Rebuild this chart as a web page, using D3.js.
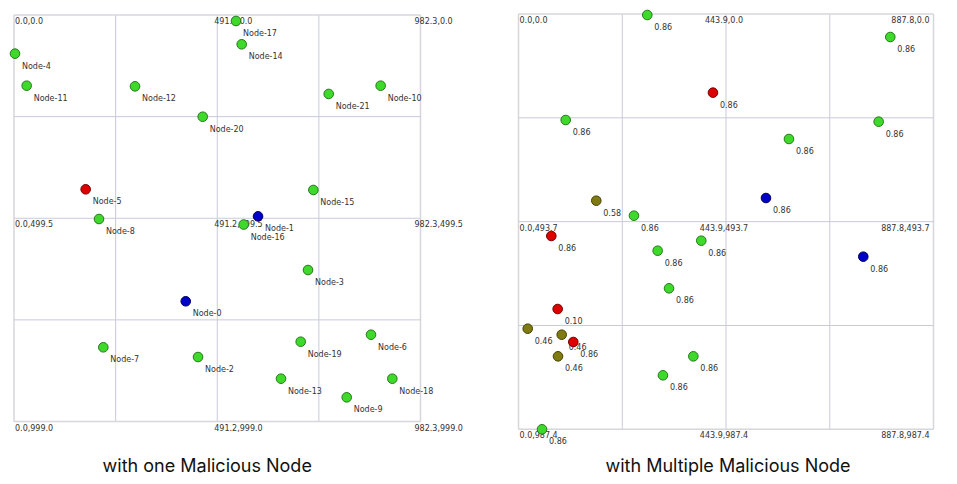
<!DOCTYPE html>
<html><head><meta charset="utf-8">
<script src="https://cdn.jsdelivr.net/npm/d3@7"></script>
<style>
html,body{margin:0;padding:0;background:#fff;}
svg{display:block;}
</style></head>
<body>
<svg id="chart" width="957" height="484"></svg>
<script>
// ---------- DATA ----------
// Panel 1: one malicious node
const leftNames = ["Node-4","Node-11","Node-12","Node-20","Node-5","Node-8","Node-17","Node-14","Node-21","Node-10","Node-15","Node-16","Node-1","Node-0","Node-7","Node-2","Node-3","Node-19","Node-6","Node-13","Node-18","Node-9"];
const leftX = [2.4,30.6,292.4,456,173.2,205.4,536.5,550.2,760.5,886,723.4,555,589.7,415,215.8,444.7,710.5,692.8,862.7,645.2,914.2,804];
const leftY = [95,173.7,175.3,250,428.4,501.4,14.7,72,194,173.7,430,515,494.8,703.6,816.7,840.5,626.7,802.9,785.7,893.8,893.8,939.6];
const leftType = ["normal","normal","normal","normal","malicious","normal","normal","normal","normal","normal","normal","normal","source","source","normal","normal","normal","normal","normal","normal","normal","normal"];
const leftXDomain = [0, 982.3];
const leftYDomain = [0, 999.0];
const leftXLabels = ["0.0","491.2","982.3"];
const leftYLabels = ["0.0","499.5","999.0"];

// Panel 2: multiple malicious nodes (trust values)
const rightX = [275.5,795.3,416,101,770.5,578.6,529.4,166.4,247,70.2,391,737.6,297.7,322,83.8,19.7,92.4,117.2,84.5,374,309,50.3];
const rightY = [2.4,54.7,187,252,256,297.2,437.5,443.9,479.5,527.8,539,577,562.8,652.2,701.4,748.2,762.5,779.8,813.9,813.9,859,987.4];
const rightValue = ["0.86","0.86","0.86","0.86","0.86","0.86","0.86","0.58","0.86","0.86","0.86","0.86","0.86","0.86","0.10","0.46","0.46","0.86","0.46","0.86","0.86","0.86"];
const rightType = ["normal","normal","malicious","normal","normal","normal","source","suspect","normal","malicious","normal","source","normal","normal","malicious","suspect","suspect","malicious","suspect","normal","normal","normal"];
const rightXDomain = [0, 887.8];
const rightYDomain = [0, 987.4];
const rightXLabels = ["0.0","443.9","887.8"];
const rightYLabels = ["0.0","493.7","987.4"];

const captions = ["with one Malicious Node","with Multiple Malicious Node"];

// ---------- STYLE ----------
const fills = {normal:"#3fd92b", malicious:"#dd0000", source:"#0000c8", suspect:"#7f7a12"};
const strokes = {normal:"#247a18", malicious:"#7a0000", source:"#00005a", suspect:"#454200"};

const svg = d3.select("#chart");

function panel(cfg){
  const x = d3.scaleLinear().domain(cfg.xDomain).range(cfg.xRange);
  const y = d3.scaleLinear().domain(cfg.yDomain).range(cfg.yRange);
  const g = svg.append("g");
  const fr = [0,0.25,0.5,0.75,1];
  const xd = fr.map(f => cfg.xDomain[0] + f*(cfg.xDomain[1]-cfg.xDomain[0]));
  const yd = fr.map(f => cfg.yDomain[0] + f*(cfg.yDomain[1]-cfg.yDomain[0]));
  // grid lines
  g.selectAll(".vg").data(xd).join("line")
    .attr("x1", d=>x(d)).attr("x2", d=>x(d))
    .attr("y1", y.range()[0]).attr("y2", y.range()[1])
    .attr("stroke", (d,i)=> (i===0||i===4) ? "#d6d6dc" : "#c9c9dc")
    .attr("stroke-width", (d,i)=> (i===0||i===4) ? 1.5 : 1);
  g.selectAll(".hg").data(yd).join("line")
    .attr("y1", d=>y(d)).attr("y2", d=>y(d))
    .attr("x1", x.range()[0]).attr("x2", x.range()[1])
    .attr("stroke", (d,i)=> (i===0||i===4) ? "#d6d6dc" : "#c9c9dc")
    .attr("stroke-width", (d,i)=> (i===0||i===4) ? 1.5 : 1);
  // coordinate labels
  const xl = [xd[0], xd[2], xd[4]];
  const yl = [yd[0], yd[2], yd[4]];
  yl.forEach((yv, j) => {
    xl.forEach((xv, i) => {
      g.append("text")
        .attr("x", x(xv) + cfg.labelDx[i])
        .attr("y", y(yv) + 9)
        .attr("text-anchor", cfg.labelAnchor[i])
        .attr("font-family", "DejaVu Sans")
        .attr("font-size", 8)
        .attr("fill", "#333")
        .text(cfg.xLabels[i] + "," + cfg.yLabels[j]);
    });
  });
  // nodes
  cfg.xs.forEach((xv, i) => {
    const n = g.append("g");
    n.append("circle")
      .attr("cx", x(xv)).attr("cy", y(cfg.ys[i])).attr("r", 4.8)
      .attr("fill", fills[cfg.types[i]])
      .attr("stroke", strokes[cfg.types[i]]).attr("stroke-width", 1);
    n.append("text")
      .attr("x", x(xv) + 7).attr("y", y(cfg.ys[i]) + 15)
      .attr("font-family", "DejaVu Sans")
      .attr("font-size", 8)
      .attr("fill", "#333")
      .text(cfg.labels[i]);
  });
  // caption
  svg.append("text")
    .attr("x", (x.range()[0] + x.range()[1]) / 2 + cfg.captionDx)
    .attr("y", 472)
    .attr("text-anchor", "middle")
    .attr("font-family", "Inter")
    .attr("font-size", 18)
    .attr("fill", "#111")
    .text(cfg.caption);
}

panel({
  xDomain: leftXDomain, yDomain: leftYDomain,
  xRange: [14, 420.5], yRange: [15, 421.5],
  xs: leftX, ys: leftY, types: leftType, labels: leftNames,
  xLabels: leftXLabels, yLabels: leftYLabels,
  labelDx: [1, -3, -6], labelAnchor: ["start","start","start"],
  caption: captions[0], captionDx: -10
});
panel({
  xDomain: rightXDomain, yDomain: rightYDomain,
  xRange: [518.5, 933.5], yRange: [14, 429.3],
  xs: rightX, ys: rightY, types: rightType, labels: rightValue,
  xLabels: rightXLabels, yLabels: rightYLabels,
  labelDx: [1, -2, -4], labelAnchor: ["start","middle","end"],
  caption: captions[1], captionDx: 2
});
</script>
</body></html>
